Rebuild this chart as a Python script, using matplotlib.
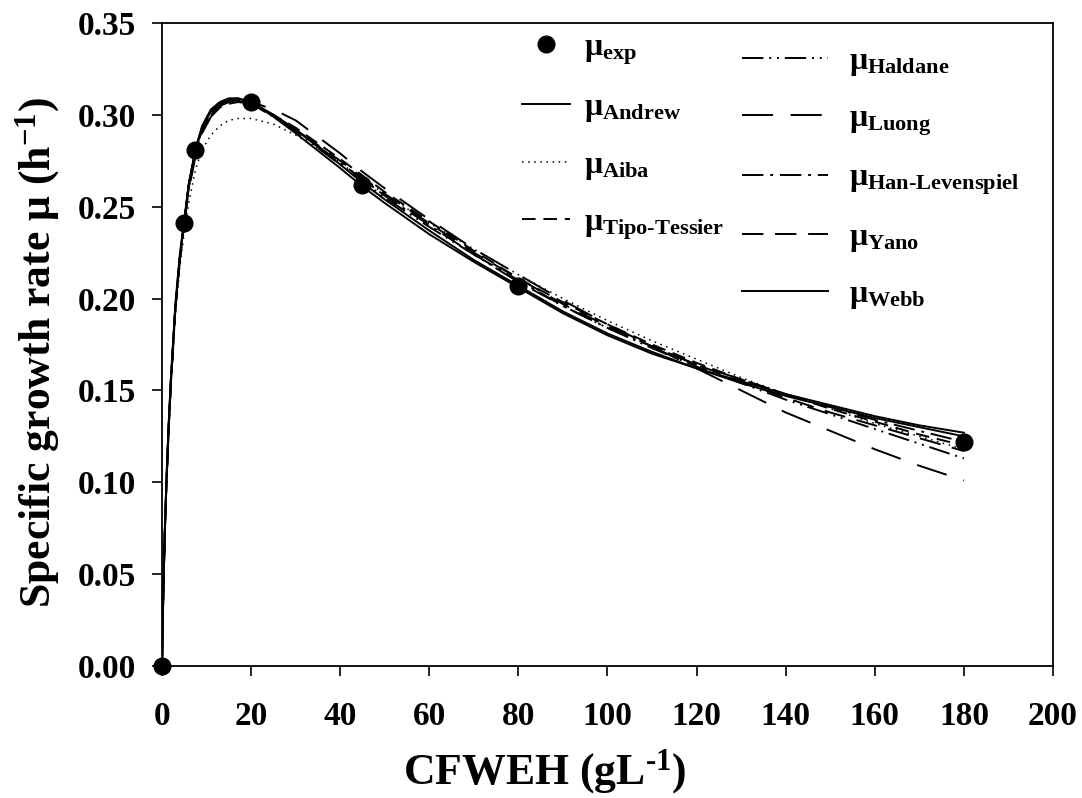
import matplotlib
matplotlib.use("Agg")
import matplotlib.pyplot as plt

plt.rcParams['font.family'] = ['Liberation Serif', 'DejaVu Serif']
plt.rcParams['font.weight'] = 'bold'
plt.rcParams['mathtext.fontset'] = 'custom'
plt.rcParams['mathtext.rm'] = 'Liberation Serif:bold'
plt.rcParams['mathtext.bf'] = 'Liberation Serif:bold'
plt.rcParams['mathtext.it'] = 'Liberation Serif:bold'

# Experimental data
cfweh_exp = [0, 5, 7.5, 20, 45, 80, 180]
mu_exp = [0.0, 0.241, 0.281, 0.307, 0.262, 0.207, 0.122]

# Model curves
cfweh_fit = [0, 0.3, 0.6, 1, 1.5, 2, 3, 4, 5, 6, 7.5, 9, 11, 13, 15, 17, 20, 25, 30,
             40, 45, 50, 60, 70, 80, 90, 100, 110, 120, 130, 140, 150, 160, 170, 180]
mu_andrew = [0, 0.040, 0.070, 0.100, 0.130, 0.155, 0.195, 0.222, 0.242, 0.262, 0.281, 0.293,
             0.302, 0.306, 0.308, 0.309, 0.307, 0.300, 0.292, 0.273, 0.263, 0.254, 0.237, 0.221,
             0.207, 0.193, 0.181, 0.171, 0.162, 0.154, 0.147, 0.141, 0.135, 0.130, 0.125]
mu_aiba = [0, 0.038, 0.068, 0.097, 0.127, 0.152, 0.191, 0.217, 0.236, 0.252, 0.270, 0.281,
           0.289, 0.294, 0.297, 0.298, 0.298, 0.295, 0.289, 0.274, 0.265, 0.257, 0.241, 0.227,
           0.213, 0.200, 0.188, 0.177, 0.167, 0.157, 0.148, 0.140, 0.132, 0.125, 0.118]
mu_tipo = [0, 0.039, 0.069, 0.099, 0.129, 0.154, 0.194, 0.221, 0.241, 0.260, 0.279, 0.291,
           0.300, 0.304, 0.306, 0.307, 0.306, 0.300, 0.293, 0.276, 0.267, 0.258, 0.242, 0.226,
           0.211, 0.198, 0.186, 0.175, 0.165, 0.156, 0.148, 0.140, 0.133, 0.126, 0.120]
mu_haldane = [0, 0.040, 0.070, 0.100, 0.130, 0.155, 0.195, 0.222, 0.242, 0.262, 0.281, 0.293,
              0.302, 0.306, 0.308, 0.308, 0.306, 0.299, 0.291, 0.273, 0.264, 0.255, 0.239, 0.224,
              0.209, 0.196, 0.184, 0.173, 0.163, 0.154, 0.145, 0.137, 0.129, 0.121, 0.113]
mu_luong = [0, 0.039, 0.069, 0.099, 0.129, 0.154, 0.194, 0.221, 0.240, 0.259, 0.277, 0.290,
            0.299, 0.304, 0.306, 0.307, 0.307, 0.303, 0.297, 0.279, 0.269, 0.260, 0.243, 0.227,
            0.213, 0.199, 0.186, 0.174, 0.162, 0.150, 0.138, 0.128, 0.118, 0.109, 0.101]
mu_han = [0, 0.040, 0.070, 0.100, 0.130, 0.155, 0.195, 0.222, 0.242, 0.261, 0.280, 0.292,
          0.301, 0.305, 0.307, 0.308, 0.307, 0.300, 0.292, 0.274, 0.265, 0.256, 0.240, 0.224,
          0.210, 0.196, 0.184, 0.174, 0.164, 0.156, 0.148, 0.141, 0.134, 0.128, 0.122]
mu_yano = [0, 0.040, 0.070, 0.100, 0.130, 0.155, 0.195, 0.222, 0.242, 0.261, 0.280, 0.292,
           0.301, 0.305, 0.307, 0.308, 0.306, 0.300, 0.292, 0.275, 0.266, 0.257, 0.241, 0.225,
           0.211, 0.197, 0.185, 0.174, 0.164, 0.155, 0.146, 0.138, 0.131, 0.124, 0.117]
mu_webb = [0, 0.042, 0.072, 0.102, 0.132, 0.157, 0.197, 0.224, 0.243, 0.262, 0.281, 0.294,
           0.303, 0.307, 0.309, 0.309, 0.307, 0.299, 0.290, 0.271, 0.261, 0.252, 0.235, 0.220,
           0.206, 0.192, 0.180, 0.170, 0.162, 0.155, 0.148, 0.142, 0.136, 0.131, 0.127]

xticks = [0, 20, 40, 60, 80, 100, 120, 140, 160, 180, 200]
yticks = [0.00, 0.05, 0.10, 0.15, 0.20, 0.25, 0.30, 0.35]

fig = plt.figure(figsize=(10.82, 7.98), dpi=100)
ax = fig.add_axes([0.1497, 0.1654, 0.9732 - 0.1497, 0.9712 - 0.1654])

lw = 1.4

h_exp, = ax.plot(cfweh_exp, mu_exp, 'o', color='black', ms=12, clip_on=False, zorder=5,
                 label=r'$μ_{\text{exp}}$')
h_andrew, = ax.plot(cfweh_fit, mu_andrew, '-', color='black', lw=lw, label=r'$μ_{\text{Andrew}}$')
h_aiba, = ax.plot(cfweh_fit, mu_aiba, color='black', lw=1.1, ls=(0, (1, 3)), label=r'$μ_{\text{Aiba}}$')
h_tipo, = ax.plot(cfweh_fit, mu_tipo, color='black', lw=lw, ls=(0, (7, 4)), label=r'$μ_{\text{Tipo-Tessier}}$')
h_haldane, = ax.plot(cfweh_fit, mu_haldane, color='black', lw=lw, ls=(0, (11, 3, 1, 3, 1, 3)), label=r'$μ_{\text{Haldane}}$')
h_luong, = ax.plot(cfweh_fit, mu_luong, color='black', lw=lw, ls=(0, (16, 9)), label=r'$μ_{\text{Luong}}$')
h_han, = ax.plot(cfweh_fit, mu_han, color='black', lw=lw, ls=(0, (11, 3.5, 1.5, 3.5)), label=r'$μ_{\text{Han-Levenspiel}}$')
h_yano, = ax.plot(cfweh_fit, mu_yano, color='black', lw=lw, ls=(0, (11, 6)), label=r'$μ_{\text{Yano}}$')
h_webb, = ax.plot(cfweh_fit, mu_webb, '-', color='black', lw=lw, label=r'$μ_{\text{Webb}}$')

ax.set_xlim(0, 200)
ax.set_ylim(0, 0.35)
ax.set_xticks(xticks)
ax.set_xticklabels([str(v) for v in xticks])
ax.set_yticks(yticks)
ax.set_yticklabels([f'{v:.2f}' for v in yticks])

for sp in ax.spines.values():
    sp.set_linewidth(1.3)
ax.tick_params(axis='both', direction='out', length=7, width=1.2, labelsize=24)
ax.tick_params(axis='x', pad=18)
ax.tick_params(axis='y', pad=12)

ax.set_xlabel(r'CFWEH (gL$^{\text{-1}}$)', fontsize=31.5, fontweight='bold')
ax.xaxis.set_label_coords(0.43, -0.126)
ax.set_ylabel(r'Specific growth rate μ (h$^{-1}$)', fontsize=31.5, fontweight='bold')
ax.yaxis.set_label_coords(-0.112, 0.488)

leg1 = ax.legend(handles=[h_exp, h_andrew, h_aiba, h_tipo], loc='upper left',
                 bbox_to_anchor=(522 / 1082, 1 - 33 / 798), bbox_transform=fig.transFigure,
                 frameon=False, fontsize=23, handlelength=1.5, handletextpad=0.45,
                 labelspacing=0.82, borderpad=0, borderaxespad=0)
ax.add_artist(leg1)
leg2 = ax.legend(handles=[h_haldane, h_luong, h_han, h_yano, h_webb], loc='upper left',
                 bbox_to_anchor=(742 / 1082, 1 - 47 / 798), bbox_transform=fig.transFigure,
                 frameon=False, fontsize=23, handlelength=2.7, handletextpad=0.65,
                 labelspacing=0.8, borderpad=0, borderaxespad=0)

fig.savefig('out.png', dpi=100)
